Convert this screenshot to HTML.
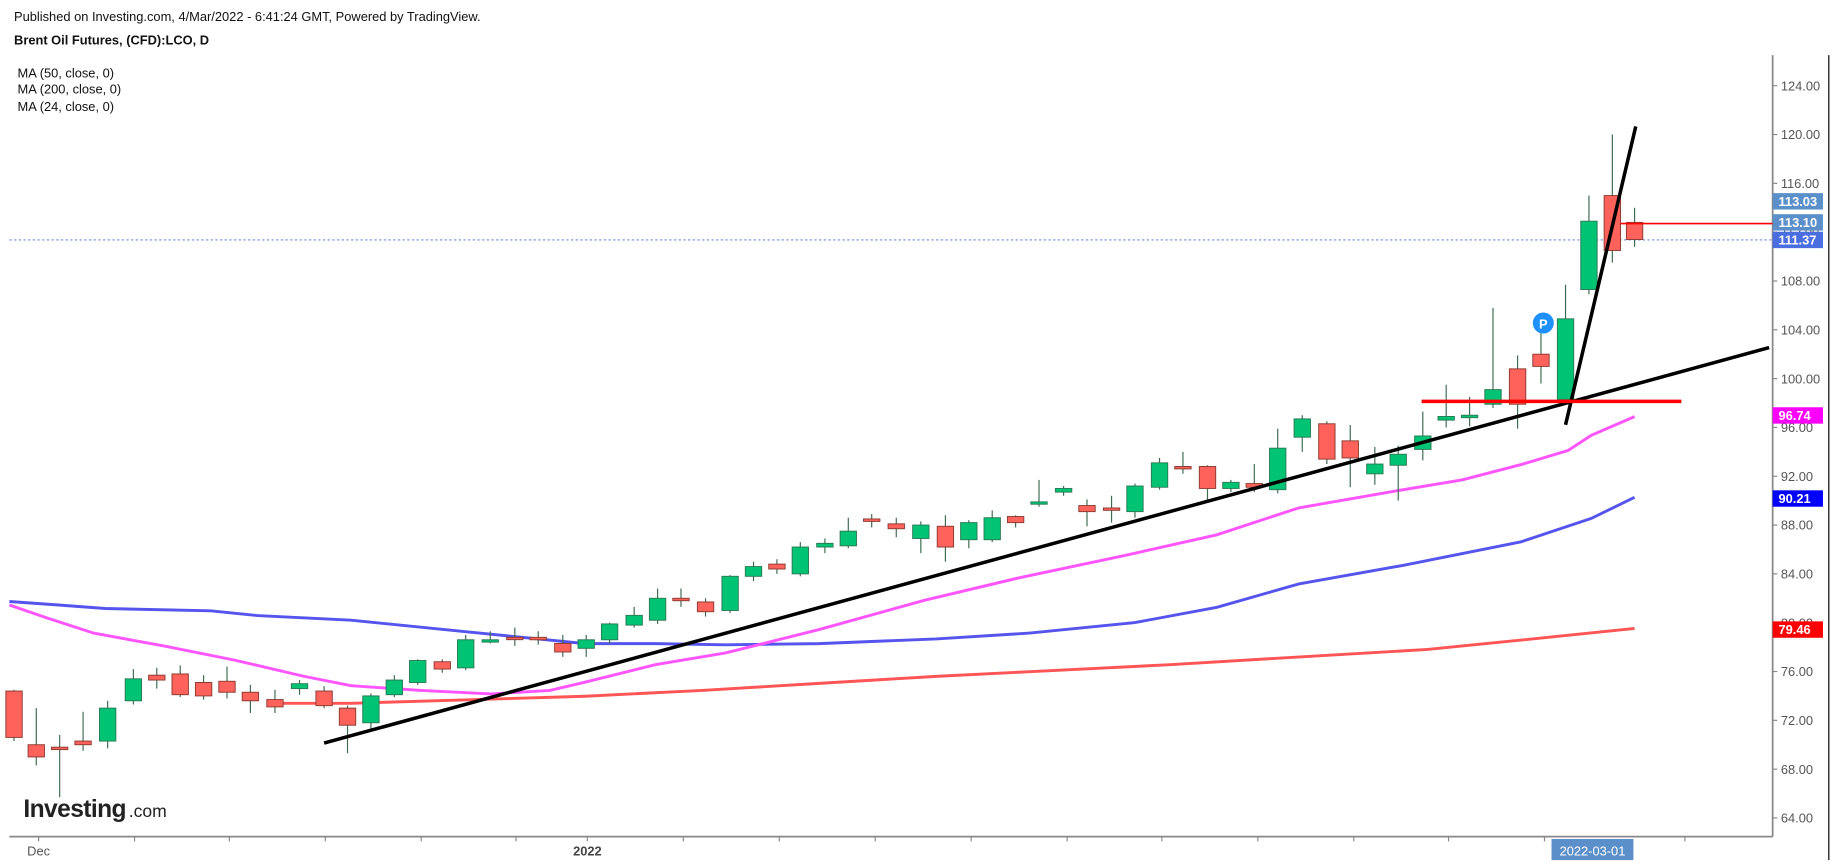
<!DOCTYPE html>
<html><head><meta charset="utf-8"><style>
html,body{margin:0;padding:0;background:#fff;overflow:hidden}
svg{display:block}
text{font-family:"Liberation Sans",Arial,sans-serif}
</style></head><body>
<svg id="c" width="1837" height="866" viewBox="0 0 1570 740" xmlns="http://www.w3.org/2000/svg">
<rect width="1570" height="740" fill="#fff"/>
<text x="12" y="18" font-size="11" fill="#111">Published on Investing.com, 4/Mar/2022 - 6:41:24 GMT, Powered by TradingView.</text>
<text x="12" y="38" font-size="11" font-weight="bold" fill="#111">Brent Oil Futures, (CFD):LCO, D</text>
<text x="15" y="66" font-size="11" fill="#111">MA (50, close, 0)</text>
<text x="15" y="80" font-size="11" fill="#111">MA (200, close, 0)</text>
<text x="15" y="95" font-size="11" fill="#111">MA (24, close, 0)</text>
<line x1="1563" y1="47" x2="1563" y2="735" stroke="#000" stroke-width="1"/>
<line x1="1515" y1="47" x2="1515" y2="715" stroke="#888" stroke-width="1.5"/>
<line x1="8" y1="715" x2="1515" y2="715" stroke="#888" stroke-width="1.5"/>
<g id="yax"></g>
<g id="xax"></g>
<line x1="8" y1="205" x2="1515" y2="205" stroke="#4a6ee0" stroke-width="0.8" stroke-dasharray="2,2"/>
<polyline fill="none" stroke="#ff5555" stroke-width="2.5" points="235,601 300,601 400,598 500,595 600,590 700,584 800,578 880,574 1000,568 1100,562 1220,555 1300,547 1397,537"/>
<polyline fill="none" stroke="#5555ee" stroke-width="2.5" points="8,514 50,517 90,520 180,522 220,526 300,530 400,540 500,550 560,550 620,551 700,550 800,546 880,541 970,532 1040,519 1110,499 1200,483 1300,463 1360,443 1397,425"/>
<polyline fill="none" stroke="#ff55ff" stroke-width="2.5" points="8,517 40,528 80,541 140,552 200,564 260,578 300,586 360,590 420,593 470,590 500,583 560,568 620,558 700,538 790,513 870,494 960,475 1040,457 1110,434 1190,420 1250,410 1300,397 1340,385 1360,372 1397,356"/>
<g id="cd"></g>
<line x1="277" y1="635" x2="1512" y2="297" stroke="#000" stroke-width="3"/>
<line x1="1338" y1="363" x2="1398" y2="108" stroke="#000" stroke-width="3"/>
<line x1="1215" y1="343" x2="1437" y2="343" stroke="#ff0000" stroke-width="3"/>
<line x1="1385" y1="191" x2="1515" y2="191" stroke="#ff0000" stroke-width="1.3"/>
<circle cx="1319" cy="276" r="9" fill="#1e90ff"/>
<text x="1319" y="280.5" font-size="11" font-weight="bold" fill="#fff" text-anchor="middle">P</text>
<g id="lb"></g>
<text x="20" y="698" font-size="21" font-weight="bold" fill="#222" letter-spacing="-0.5">Investing</text>
<text x="110" y="698" font-size="15" fill="#222">.com</text>
</svg>
<script>
var NS="http://www.w3.org/2000/svg";
function el(p,t,a,tx){var e=document.createElementNS(NS,t);for(var k in a)e.setAttribute(k,a[k]);if(tx)e.textContent=tx;document.getElementById(p).appendChild(e);return e;}
function Y(p){return 699-(p-64)*10.43;}
for(var p=64;p<=124;p+=4){var y=Y(p);el("yax","line",{x1:1515,y1:y,x2:1519,y2:y,stroke:"#888"});el("yax","text",{x:1522,y:y+4,"font-size":11,fill:"#555"},p.toFixed(2));}
[33,115,196,278,360,441,502,584,666,748,830,912,993,1075,1157,1238,1320,1440].forEach(function(x){el("xax","line",{x1:x,y1:715,x2:x,y2:719,stroke:"#888"});});
el("xax","text",{x:33,y:731,"font-size":11,fill:"#555","text-anchor":"middle"},"Dec");
el("xax","text",{x:502,y:731,"font-size":11,"font-weight":"bold",fill:"#444","text-anchor":"middle"},"2022");
el("xax","rect",{x:1326,y:717,width:70,height:18,fill:"#5b8fc9"});
el("xax","text",{x:1361,y:731,"font-size":11,fill:"#fff","text-anchor":"middle"},"2022-03-01");
var C=[[12,74.4,70.6,74.5,70.3],[31,70,69,73,68.3],[51,69.8,69.6,70.8,65.7],[71,70.3,70,72.7,69.5],[92,70.3,73,73.6,69.7],[114,73.6,75.4,76.2,73.3],[134,75.7,75.3,76.3,74.6],[154,75.8,74.1,76.5,73.9],[174,75.1,74,75.7,73.7],[194,75.2,74.3,76.4,73.8],[214,74.3,73.6,74.9,72.6],[235,73.7,73.1,74.5,72.6],[256,74.6,75,75.3,74.1],[277,74.4,73.2,74.8,73],[297,73,71.6,73.2,69.3],[317,71.8,74,74.2,71.3],[337,74.1,75.3,75.7,73.9],[357,75.1,76.9,77,74.9],[378,76.8,76.2,77,75.9],[398,76.3,78.6,79,76.1],[419,78.5,78.6,79.3,78.3],[440,78.8,78.7,79.6,78.1],[460,78.8,78.6,79.3,78.2],[481,78.3,77.6,79,77.2],[501,77.9,78.6,79,77.2],[521,78.6,79.9,80,78.3],[542,79.8,80.6,81.3,79.6],[562,80.2,82,82.8,79.9],[582,82,81.8,82.8,81.3],[603,81.7,80.9,82,80.5],[624,81,83.8,83.9,80.8],[644,83.8,84.6,85,83.4],[664,84.8,84.4,85.2,84],[684,84,86.2,86.6,83.8],[705,86.2,86.5,86.9,85.7],[725,86.3,87.5,88.6,86.1],[745,88.5,88.3,88.9,87.8],[766,88.1,87.7,88.6,87],[787,86.9,88,88.3,85.7],[808,87.9,86.2,88.8,85],[828,86.8,88.2,88.4,86.1],[848,86.8,88.6,89.2,86.6],[868,88.7,88.2,88.8,87.8],[888,89.8,89.9,91.7,89.5],[909,90.7,91,91.2,90.4],[929,89.6,89.1,90.1,87.9],[950,89.4,89.3,90.4,88.2],[970,89.1,91.2,91.4,88.6],[991,91.1,93.1,93.5,90.9],[1011,92.8,92.6,94,92.2],[1032,92.8,91,92.9,90],[1052,91,91.5,91.7,90.7],[1072,91.4,91.1,93,90.7],[1092,90.9,94.3,95.9,90.6],[1113,95.2,96.7,97,94],[1134,96.3,93.4,96.5,93],[1154,94.9,93.5,96.2,91.1],[1175,92.2,93,94.4,91.3],[1195,92.9,93.8,94.5,90],[1216,94.2,95.3,97.3,93.3],[1236,96.6,96.9,99.5,96],[1256,96.8,97,98.5,96.1],[1276,97.9,99.1,105.8,97.6],[1297,100.8,97.9,101.9,95.9],[1317,102,101,105,99.6],[1338,98.3,104.9,107.7,98.1],[1358,107.3,112.9,115,106.9],[1378,115,110.5,120,109.5],[1397,112.8,111.4,114,110.8]];
C.forEach(function(c){var x=c[0],up=c[2]>=c[1];var t=Y(Math.max(c[1],c[2])),b=Y(Math.min(c[1],c[2]));if(b-t<2)b=t+2;
el("cd","line",{x1:x,y1:Y(c[3]),x2:x,y2:Y(c[4]),stroke:"#3d6b50","stroke-width":1});
el("cd","rect",{x:x-7,y:t,width:14,height:b-t,fill:up?"#00c374":"#ff625a",stroke:up?"#2a7a55":"#8a3a30","stroke-width":0.8});});
function lab(y,txt,bg,fg){el("lb","rect",{x:1515,y:y-7,width:43,height:14,fill:bg});el("lb","text",{x:1520,y:y+4,"font-size":11,"font-weight":"bold",fill:fg},txt);}
lab(172,"113.03","#5b8fc9","#fff");lab(190,"113.10","#5b8fc9","#fff");lab(205,"111.37","#4a6ee0","#fff");
lab(355,"96.74","#ff00ff","#fff");lab(426,"90.21","#0000ff","#fff");lab(538,"79.46","#ff0000","#fff");
</script>
</body></html>
